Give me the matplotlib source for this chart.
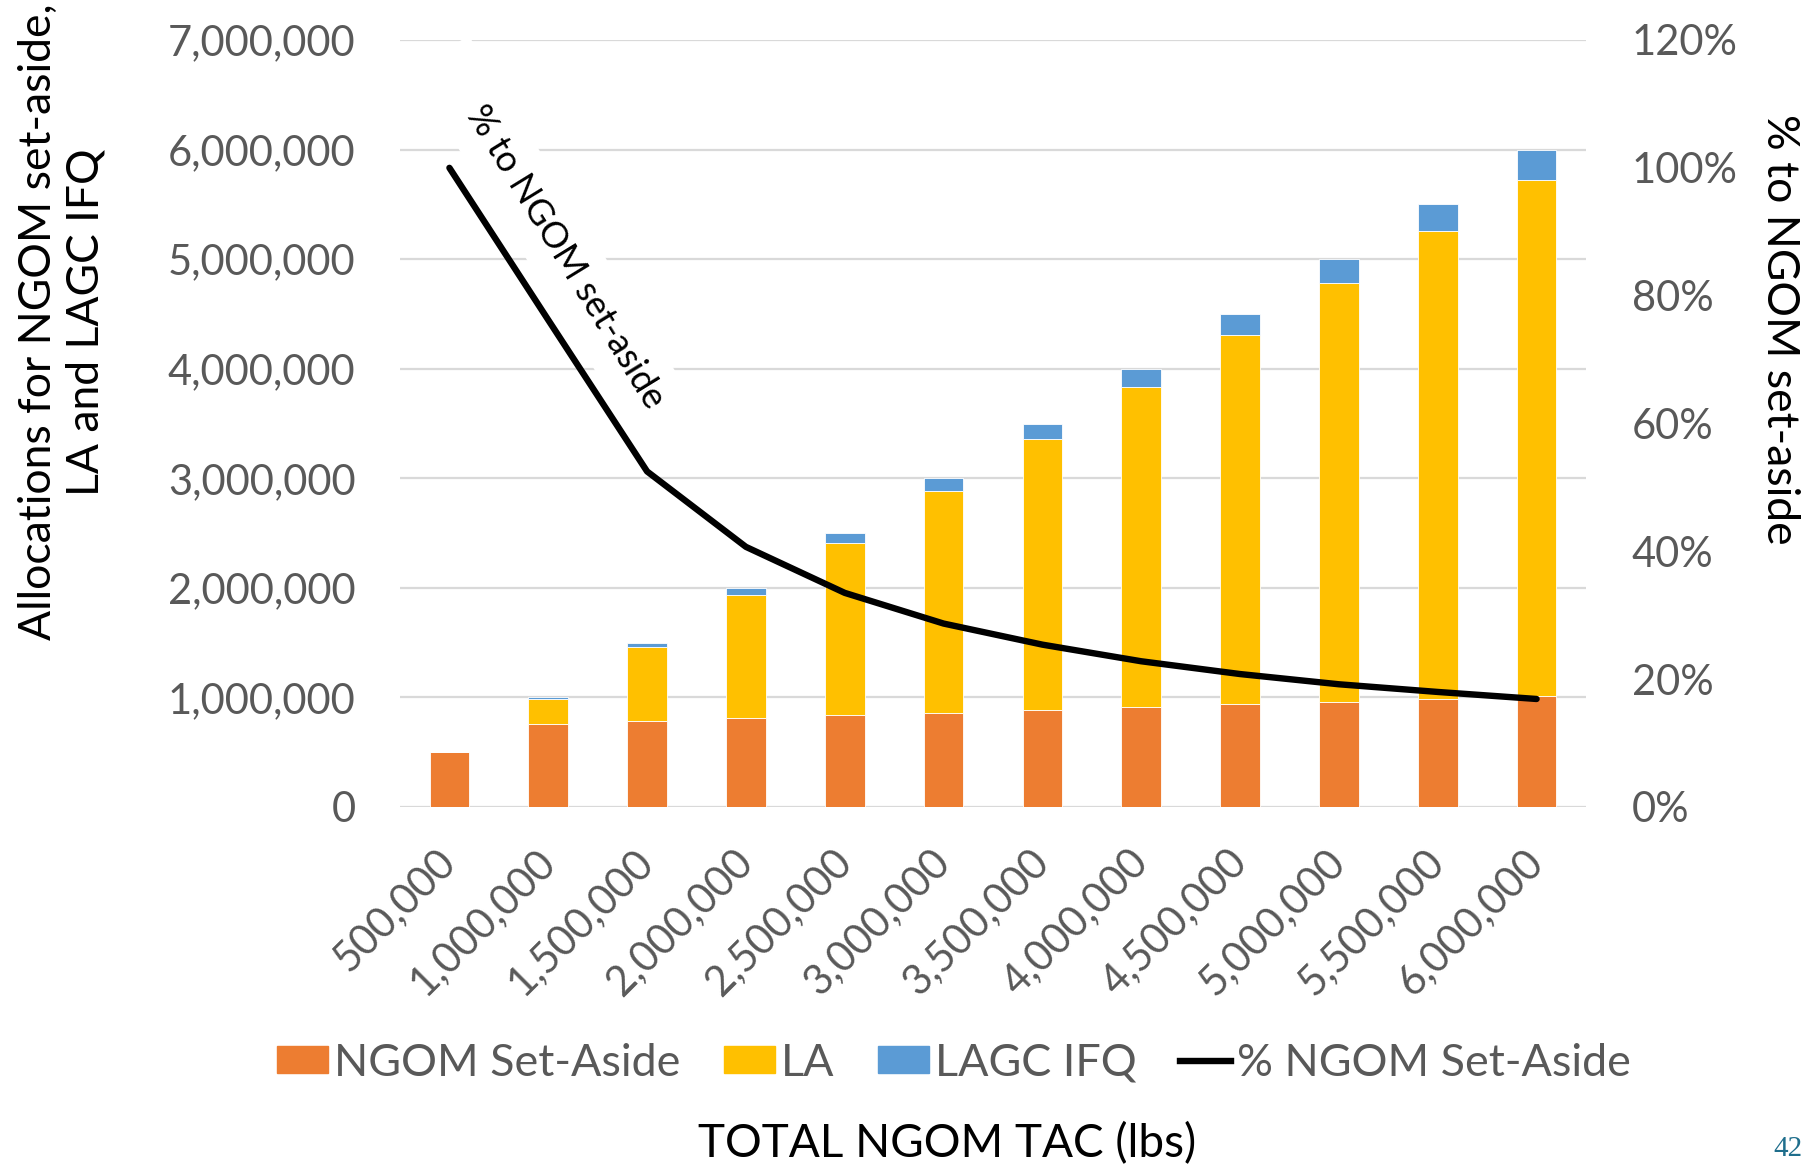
import matplotlib
matplotlib.use("Agg")
import matplotlib.pyplot as plt
from matplotlib.patches import Rectangle
from matplotlib.lines import Line2D
from matplotlib.ticker import FuncFormatter, MultipleLocator
from matplotlib.transforms import Affine2D
import numpy as np

# ---- data -----------------------------------------------------------------
tac_labels = ["500,000", "1,000,000", "1,500,000", "2,000,000", "2,500,000",
              "3,000,000", "3,500,000", "4,000,000", "4,500,000", "5,000,000",
              "5,500,000", "6,000,000"]
ngom_set_aside = [500000, 762000, 788000, 813000, 838000, 862000,
                  888000, 912000, 937000, 962000, 988000, 1012000]
la = [0, 225000, 673000, 1122000, 1571000, 2021000,
      2469000, 2919000, 3368000, 3817000, 4265000, 4714000]
lagc_ifq = [0, 13000, 39000, 65000, 91000, 117000,
            143000, 169000, 195000, 221000, 247000, 274000]
pct_set_aside = [1.000, 0.762, 0.525, 0.407, 0.335, 0.287,
                 0.254, 0.228, 0.208, 0.192, 0.180, 0.169]

# ---- style ----------------------------------------------------------------
FONT = ["Lato", "DejaVu Sans"]
plt.rcParams["font.family"] = FONT
GREY = "#595959"
ORANGE = "#ED7D31"
YELLOW = "#FFC000"
BLUE = "#5B9BD5"
GRID = "#D9D9D9"

W, H = 1815, 1168
fig = plt.figure(figsize=(W / 100, H / 100), dpi=100)
ax = fig.add_axes([400 / W, 1 - 807 / H, (1586 - 400) / W, (807 - 40) / H])
ax2 = ax.twinx()

x = np.arange(len(tac_labels))
bw = 0.4
ngom = np.array(ngom_set_aside)
la_a = np.array(la)
ifq = np.array(lagc_ifq)

ax.bar(x, ngom, bw, color=ORANGE, edgecolor="white", linewidth=0.6, zorder=2)
ax.bar(x, la_a, bw, bottom=ngom, color=YELLOW, edgecolor="white", linewidth=0.6, zorder=2)
ax.bar(x, ifq, bw, bottom=ngom + la_a, color=BLUE, edgecolor="white", linewidth=0.6, zorder=2)

ax.set_xlim(-0.5, len(x) - 0.5)
ax.set_ylim(0, 7_000_000)
ax.yaxis.set_major_locator(MultipleLocator(1_000_000))
ax.yaxis.set_major_formatter(FuncFormatter(lambda v, p: f"{int(v):,}"))
ax.grid(axis="y", color=GRID, linewidth=1.6)
ax.set_axisbelow(True)

ax.set_xticks(x)
ax.set_xticklabels(tac_labels, rotation=45, ha="right", va="center",
                   rotation_mode="anchor")
ax.tick_params(axis="x", length=0, pad=35, labelsize=30, labelcolor=GREY)
ax.tick_params(axis="y", length=0, pad=32, labelsize=30, labelcolor=GREY)

# secondary axis: share of TAC to the NGOM set-aside
ax2.plot(x, pct_set_aside, color="black", linewidth=4.6,
         solid_capstyle="round", solid_joinstyle="round", zorder=5)
ax2.set_ylim(0, 1.2)
ax2.yaxis.set_major_locator(MultipleLocator(0.2))
ax2.yaxis.set_major_formatter(FuncFormatter(lambda v, p: f"{v * 100:.0f}%"))
ax2.tick_params(axis="y", length=0, pad=33, labelsize=30, labelcolor=GREY)

for a in (ax, ax2):
    for s in a.spines.values():
        s.set_visible(False)

# in-plot label along the line, on a white strip that masks the gridlines
tx, ty = 1.17, 5.02e6
angle = -58.4
cx, cy = ax.transData.transform((tx, ty))
strip = Rectangle((-239, -34), 439, 68, facecolor="white", edgecolor="none",
                  transform=Affine2D().rotate_deg(angle).translate(cx, cy),
                  clip_on=False, zorder=1)
ax.add_patch(strip)
ax.text(tx, ty, "% to NGOM set-aside", rotation=angle, rotation_mode="anchor",
        ha="center", va="center", fontsize=26, color="black", zorder=3)

# axis titles
fig.text(62 / W, 1 - 322 / H, "Allocations for NGOM set-aside,\nLA and LAGC IFQ",
         rotation=90, ha="center", va="center", multialignment="center",
         fontsize=32, color="black", linespacing=1.2)
fig.text(1780 / W, 1 - 329 / H, "% to NGOM set-aside", rotation=270,
         ha="center", va="center", fontsize=32, color="black")
fig.text(947 / W, 1 - 1157 / H, "TOTAL NGOM TAC (lbs)", ha="center",
         va="baseline", fontsize=33, color="black")

# legend
handles = [Rectangle((0, 0), 1, 1, color=ORANGE),
           Rectangle((0, 0), 1, 1, color=YELLOW),
           Rectangle((0, 0), 1, 1, color=BLUE),
           Line2D([0], [0], color="black", linewidth=4.6)]
names = ["NGOM Set-Aside", "LA", "LAGC IFQ", "% NGOM Set-Aside"]
leg = fig.legend(handles, names, loc="center", bbox_to_anchor=(954 / W, 1 - 1063 / H),
                 ncol=4, frameon=False, fontsize=32.3, handlelength=1.15,
                 handleheight=0.56, handletextpad=0.13, columnspacing=0.96,
                 borderpad=0, borderaxespad=0)
for t in leg.get_texts():
    t.set_color(GREY)

# page number
fig.text(1788 / W, 1 - 1149 / H, "42", ha="center", va="center",
         fontsize=21, color="#1F6E8C", family=["Liberation Serif", "DejaVu Serif"])

fig.savefig("out.png", dpi=100)
